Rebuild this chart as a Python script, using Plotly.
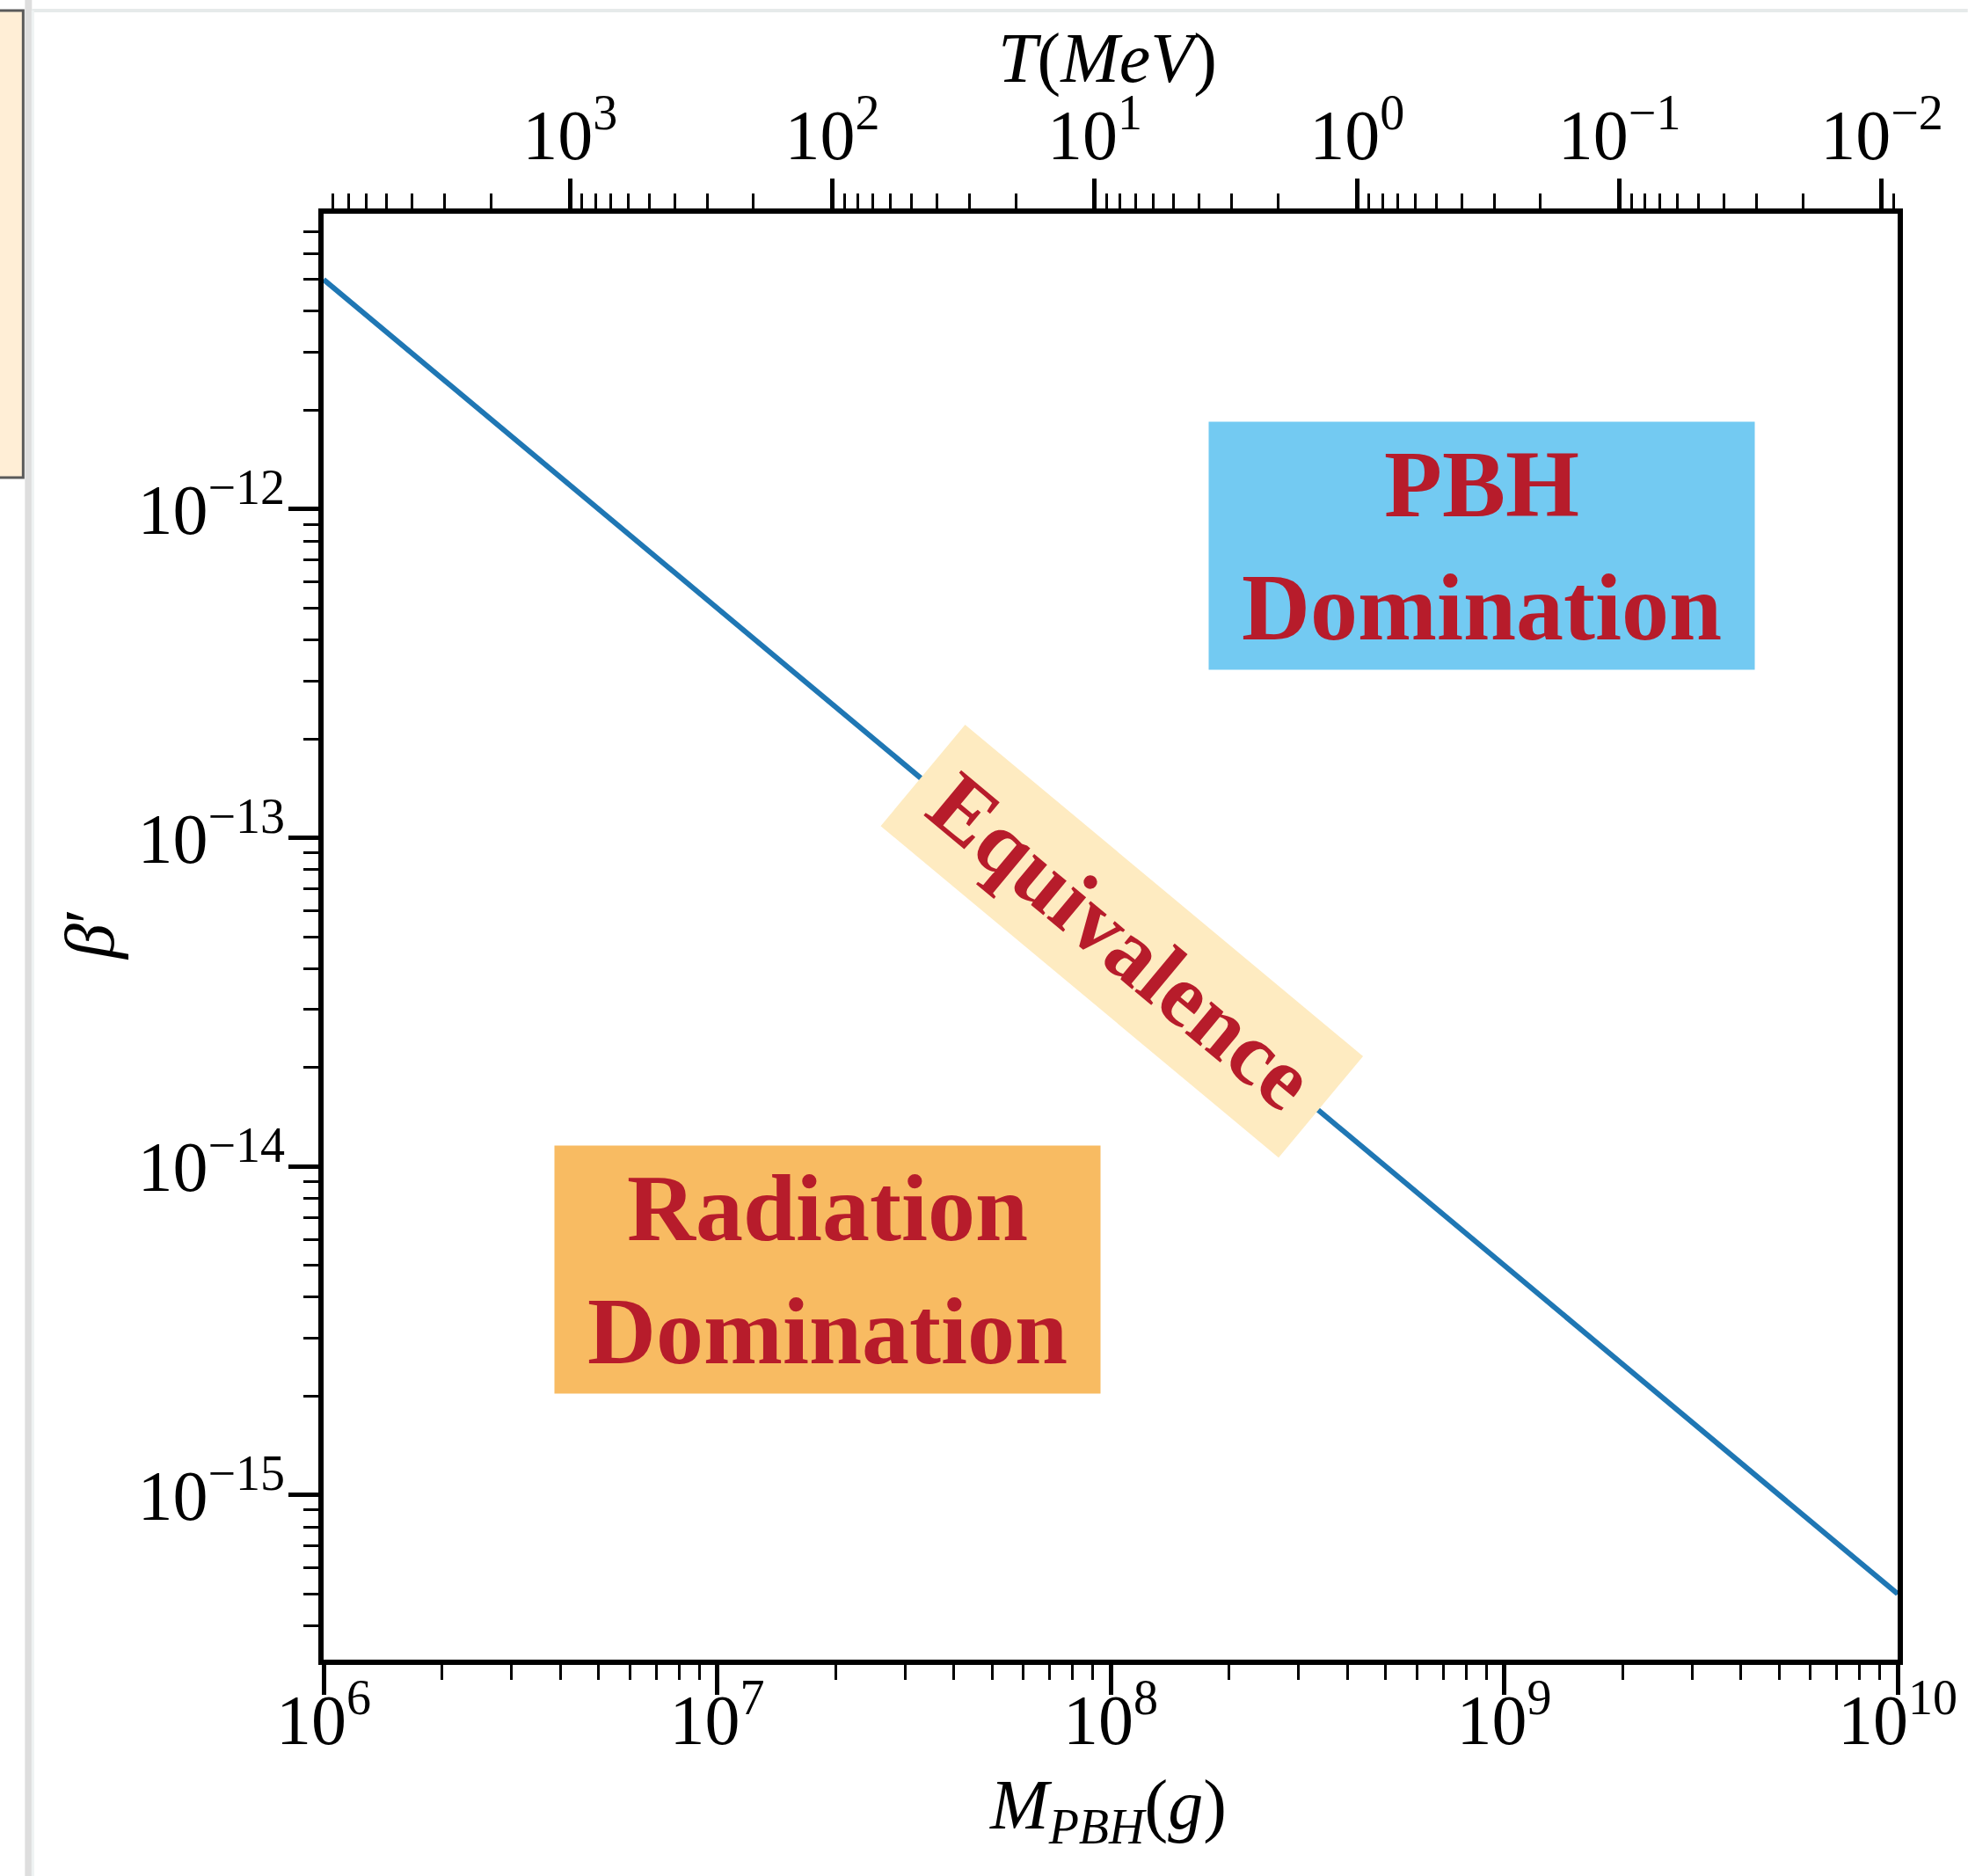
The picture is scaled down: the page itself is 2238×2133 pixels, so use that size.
import plotly.graph_objects as go

# ---- data ----
mass_g = [1e6, 1e10]                 # M_PBH (g)
beta_eq = [5.0e-12, 5.0e-16]         # beta' at equivalence
temp_mev_edges = [8.7e3, 8.7e-3]     # T (MeV) at the plot edges (top axis)

mass_ticks = [1e6, 1e7, 1e8, 1e9, 1e10]
mass_ticktext = ["10<sup>6</sup>", "10<sup>7</sup>", "10<sup>8</sup>", "10<sup>9</sup>", "10<sup>10</sup>"]
temp_ticks = [1e3, 1e2, 1e1, 1e0, 1e-1, 1e-2]
temp_ticktext = ["10<sup>3</sup>", "10<sup>2</sup>", "10<sup>1</sup>", "10<sup>0</sup>",
                 "10<sup>−1</sup>", "10<sup>−2</sup>"]
beta_ticks = [1e-15, 1e-14, 1e-13, 1e-12]
beta_ticktext = ["10<sup>−15</sup>", "10<sup>−14</sup>", "10<sup>−13</sup>", "10<sup>−12</sup>"]

region_labels = ["<b>PBH<br>Domination</b>", "<b>Radiation<br>Domination</b>", "<b>Equivalence</b>"]


def minor_vals(lo, hi):
    return [m * 10.0 ** k for k in range(lo, hi) for m in range(2, 10)]


W, H = 2238, 2133
L, R, T, B = 368, 2238 - 2165, 243, 2133 - 1887
PW, PH = W - L - R, H - T - B


def px(x):
    return (x - L) / PW


def py(y):
    return (H - B - y) / PH


TICKFONT = dict(family="Liberation Serif", size=80, color="black")
TITLEFONT = dict(family="Liberation Serif", size=80, color="black")
RED = "#B71C2B"

fig = go.Figure()
fig.add_trace(go.Scatter(x=mass_g, y=beta_eq, mode="lines",
                         line=dict(color="#1f77b4", width=6),
                         showlegend=False, hoverinfo="skip"))
fig.add_trace(go.Scatter(x=temp_mev_edges, y=beta_eq, mode="lines", xaxis="x2",
                         line=dict(width=0), opacity=0,
                         showlegend=False, hoverinfo="skip"))


def axis(tickvals, ticktext, minor, **kw):
    d = dict(type="log", tickmode="array", tickvals=tickvals, ticktext=ticktext,
             ticks="outside", ticklen=34, tickwidth=5,
             tickcolor="black", showline=True, linewidth=6, linecolor="black",
             showgrid=False, zeroline=False, tickfont=TICKFONT,
             minor=dict(tickmode="array", tickvals=minor, ticks="outside", ticklen=17,
                        tickwidth=3, tickcolor="black", showgrid=False))
    d.update(kw)
    return d


fig.update_layout(
    width=W, height=H,
    margin=dict(l=L, r=R, t=T, b=B, pad=0),
    paper_bgcolor="white", plot_bgcolor="white",
    xaxis=axis(mass_ticks, mass_ticktext, minor_vals(6, 10),
               range=[6, 10], mirror=True, ticklabelstandoff=-40),
    xaxis2=axis(temp_ticks, temp_ticktext, minor_vals(-3, 4),
                range=[3.9395, -2.0605], overlaying="x", side="top", anchor="y",
                ticklabelstandoff=-10),
    yaxis=axis(beta_ticks, beta_ticktext, minor_vals(-16, -11),
               range=[-15.501, -11.101], mirror=True, ticklabelstandoff=-12),
)

# axis titles
fig.add_annotation(xref="paper", yref="paper", x=px(1263), y=py(2058),
                   text="<i>M</i><sub><i>PBH</i></sub>(<i>g</i>)", showarrow=False,
                   font=TITLEFONT, xanchor="center", yanchor="middle")
fig.add_annotation(xref="paper", yref="paper", x=px(1263), y=py(66),
                   text="<i>T</i>(<i>MeV</i>)", showarrow=False,
                   font=TITLEFONT, xanchor="center", yanchor="middle")
fig.add_annotation(xref="paper", yref="paper", x=px(101), y=py(1063),
                   text="<i>β</i>′", showarrow=False, textangle=-90,
                   font=TITLEFONT, xanchor="center", yanchor="middle")

# region labels
fig.add_annotation(xref="paper", yref="paper", x=px(1690), y=py(620.5),
                   text=region_labels[0], showarrow=False,
                   width=620, height=281, bgcolor="#73CAF2", borderpad=0,
                   font=dict(family="Liberation Serif", size=108, color=RED),
                   xanchor="center", yanchor="middle")
fig.add_annotation(xref="paper", yref="paper", x=px(943.5), y=py(1443),
                   text=region_labels[1], showarrow=False,
                   width=620, height=281, bgcolor="#F8BB62", borderpad=0,
                   font=dict(family="Liberation Serif", size=108, color=RED),
                   xanchor="center", yanchor="middle")
fig.add_annotation(xref="paper", yref="paper", x=px(1280), y=py(1070),
                   text=region_labels[2], showarrow=False, textangle=39.8,
                   width=588, height=149, bgcolor="#FEEBC1", borderpad=0,
                   font=dict(family="Liberation Serif", size=102, color=RED),
                   xanchor="center", yanchor="middle")

# page-edge decorations seen in the reference screenshot
fig.add_shape(type="rect", xref="paper", yref="paper",
              x0=px(-6), x1=px(25), y0=py(543), y1=py(12),
              fillcolor="#FFEED6", line=dict(color="#5a5a5a", width=3), layer="above")
fig.add_shape(type="rect", xref="paper", yref="paper",
              x0=px(27), x1=px(35), y0=py(2140), y1=py(-5),
              fillcolor="#dedede", line=dict(width=0), layer="above")
fig.add_shape(type="line", xref="paper", yref="paper",
              x0=px(35), x1=px(2245), y0=py(12), y1=py(12),
              line=dict(color="#e6eaea", width=4), layer="above")
fig.add_shape(type="line", xref="paper", yref="paper",
              x0=px(36), x1=px(36), y0=py(12), y1=py(2140),
              line=dict(color="#eef2f2", width=3), layer="above")

fig.write_html("out.html", config={"displayModeBar": False},
               post_script="document.body.style.margin='0px';"
                           "document.body.style.overflow='hidden';")
